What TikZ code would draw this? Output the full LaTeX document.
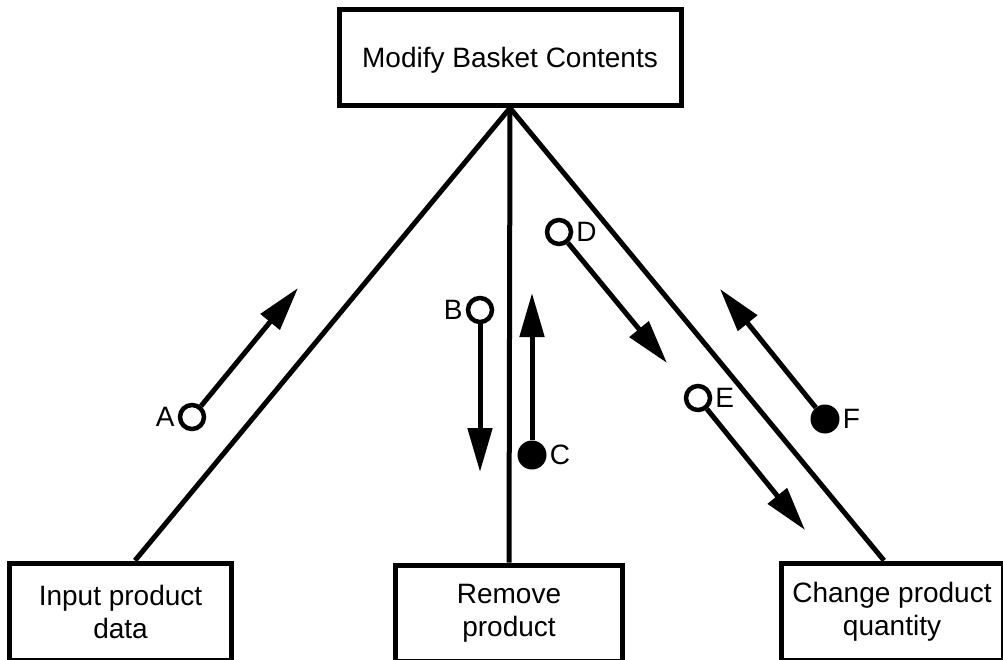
\documentclass[tikz,border=0pt]{standalone}
\usepackage{fontspec}
\setmainfont{Liberation Sans}
\usetikzlibrary{arrows.meta}

\begin{document}
\begin{tikzpicture}[x=1pt, y=-1pt,
        every node/.style={font=\fontsize{28}{33}\selectfont},
        box/.style={draw, line width=5pt, minimum width=222pt, minimum height=97pt, align=center, inner sep=0pt},
        hollow/.style={circle, draw, line width=4.5pt, fill=white, minimum size=24pt, inner sep=0pt},
        filled/.style={circle, fill=black, minimum size=29pt, inner sep=0pt},
        lbl/.style={inner sep=1pt},
        flow/.style={line width=5pt, -{Triangle[length=44pt, width=24pt]}},
        link/.style={line width=5pt}]
        \useasboundingbox (0,0) rectangle (1003,660);

        % Boxes of the structure chart
        \node[box, minimum width=342pt, minimum height=95.5pt, text depth=0pt] (mbc) at (510,57.75) {Modify Basket Contents};
        \node[box] (ipd) at (120.5,611.5) {Input product\\data};
        \node[box, minimum width=227pt, minimum height=96pt] (rp) at (509,613) {Remove\\product};
        \node[box] (cpq) at (892,611.5) {Change product\\quantity};

        % Calls from the top box
        \draw[link] (mbc.south) -- ([xshift=14.5pt]ipd.north);
        \draw[link] (mbc.south) -- (rp.north);
        \draw[link] (mbc.south) -- ([xshift=-8pt]cpq.north);

        % Data couples
        \node[hollow, label={[lbl, label distance=2pt]left:A}] (a) at (192,417) {};
        \coordinate (a tip) at (298,288);
        \draw[flow] (a) -- (a tip);

        \node[hollow, label={[lbl, label distance=2pt]left:B}] (b) at (480,310) {};
        \coordinate (b tip) at (480,472);
        \draw[flow] (b) -- (b tip);

        \node[filled, label={[lbl, label distance=2pt]right:C}] (c) at (532,455) {};
        \coordinate (c tip) at (532,293);
        \draw[flow] (c) -- (c tip);

        \node[hollow, label={[lbl, label distance=2pt]right:D}] (d) at (559,232) {};
        \coordinate (d tip) at (667,363);
        \draw[flow] (d) -- (d tip);

        \node[hollow, label={[lbl, label distance=2pt]right:E}] (e) at (698,398) {};
        \coordinate (e tip) at (805,530);
        \draw[flow] (e) -- (e tip);

        \node[filled, label={[lbl, label distance=2pt]right:F}] (f) at (825,419) {};
        \coordinate (f tip) at (720,289);
        \draw[flow] (f) -- (f tip);

    \end{tikzpicture}
\end{document}
